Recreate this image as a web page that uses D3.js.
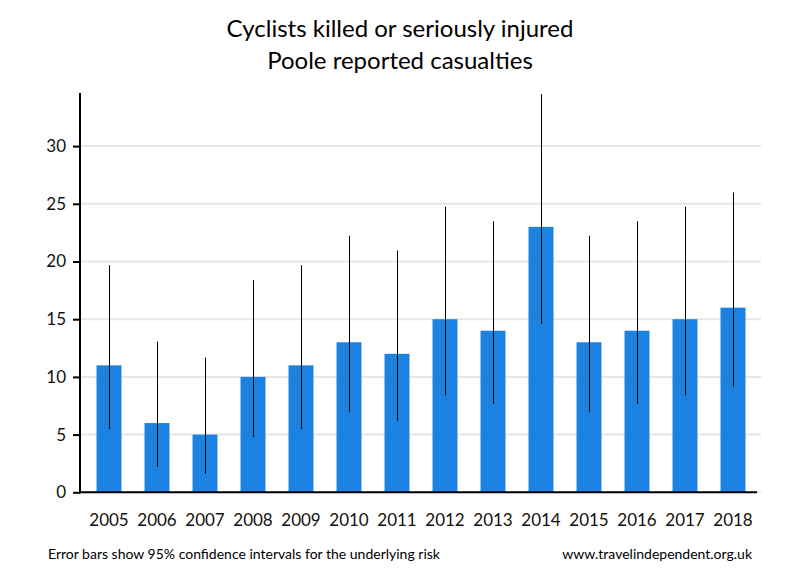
<!DOCTYPE html>
<html>
<head>
<meta charset="utf-8">
<script src="https://cdn.jsdelivr.net/npm/d3@7"></script>
<style>
  body { margin: 0; background: #fff; }
  svg { display: block; font-family: Lato, "Open Sans", sans-serif; }
</style>
</head>
<body>
<svg id="chart" width="800" height="580"></svg>
<script>
const years = ["2005","2006","2007","2008","2009","2010","2011","2012","2013","2014","2015","2016","2017","2018"];
const casualties = [11, 6, 5, 10, 11, 13, 12, 15, 14, 23, 13, 14, 15, 16];
const ciLower = [5.49, 2.20, 1.62, 4.80, 5.49, 6.92, 6.20, 8.40, 7.65, 14.58, 6.92, 7.65, 8.40, 9.15];
const ciUpper = [19.68, 13.06, 11.67, 18.39, 19.68, 22.23, 20.96, 24.74, 23.49, 34.51, 22.23, 23.49, 24.74, 25.98];
const yTicks = [0, 5, 10, 15, 20, 25, 30];
const titleLines = ["Cyclists killed or seriously injured", "Poole reported casualties"];
const footLeft = "Error bars show 95% confidence intervals for the underlying risk";
const footRight = "www.travelindependent.org.uk";

const svg = d3.select("#chart");
const x0 = 80, xEnd = 757, gridEnd = 761;
const y = d3.scaleLinear().domain([0, 34.6]).range([492.3, 93]);
const x = d3.scaleBand().domain(years).range([85, 757]).paddingInner(0.48).paddingOuter(0.24);

// gridlines
svg.append("g").selectAll("line").data(yTicks).join("line")
  .attr("x1", x0).attr("x2", gridEnd)
  .attr("y1", d => y(d)).attr("y2", d => y(d))
  .attr("stroke", "#e6e6e6").attr("stroke-width", 2);

// bars
svg.append("g").selectAll("rect").data(years).join("rect")
  .attr("x", d => x(d)).attr("width", x.bandwidth())
  .attr("y", (d, i) => y(casualties[i]))
  .attr("height", (d, i) => y(0) - y(casualties[i]))
  .attr("fill", "#1c82e1");

// error bars
svg.append("g").selectAll("line").data(years).join("line")
  .attr("x1", d => Math.round(x(d) + x.bandwidth() / 2) + 0.5)
  .attr("x2", d => Math.round(x(d) + x.bandwidth() / 2) + 0.5)
  .attr("y1", (d, i) => y(ciLower[i]))
  .attr("y2", (d, i) => y(ciUpper[i]))
  .attr("stroke", "#000").attr("stroke-width", 1);

// y axis
const yAxis = d3.axisLeft(y).tickValues(yTicks).tickSize(7).tickPadding(7).tickFormat(d3.format("d"));
const gy = svg.append("g").attr("transform", `translate(${x0},0)`).call(yAxis);
gy.select(".domain").remove();
gy.selectAll(".tick line").attr("stroke", "#000").attr("stroke-width", 2);
gy.selectAll(".tick text").attr("font-size", 17).attr("fill", "#111").attr("font-family", "Lato, sans-serif");
svg.append("line").attr("x1", x0).attr("x2", x0).attr("y1", 93).attr("y2", y(0) + 1)
  .attr("stroke", "#000").attr("stroke-width", 2);

// x axis
const xAxis = d3.axisBottom(x).tickSize(0).tickPadding(22);
const gx = svg.append("g").attr("transform", `translate(0,${y(0)})`).call(xAxis);
gx.select(".domain").remove();
gx.selectAll(".tick text").attr("font-size", 17).attr("fill", "#111").attr("font-family", "Lato, sans-serif");
svg.append("line").attr("x1", x0 - 1).attr("x2", xEnd).attr("y1", y(0)).attr("y2", y(0))
  .attr("stroke", "#000").attr("stroke-width", 2);

// title
svg.append("g").selectAll("text").data(titleLines).join("text")
  .attr("x", 400).attr("y", (d, i) => 37 + i * 32)
  .attr("text-anchor", "middle").attr("font-size", 24).attr("fill", "#000")
  .text(d => d);

// footer
svg.append("text").attr("x", 48).attr("y", 559).attr("font-size", 14).attr("fill", "#000").text(footLeft);
svg.append("text").attr("x", 752).attr("y", 559).attr("text-anchor", "end").attr("font-size", 14).attr("fill", "#000").text(footRight);
</script>
</body>
</html>
